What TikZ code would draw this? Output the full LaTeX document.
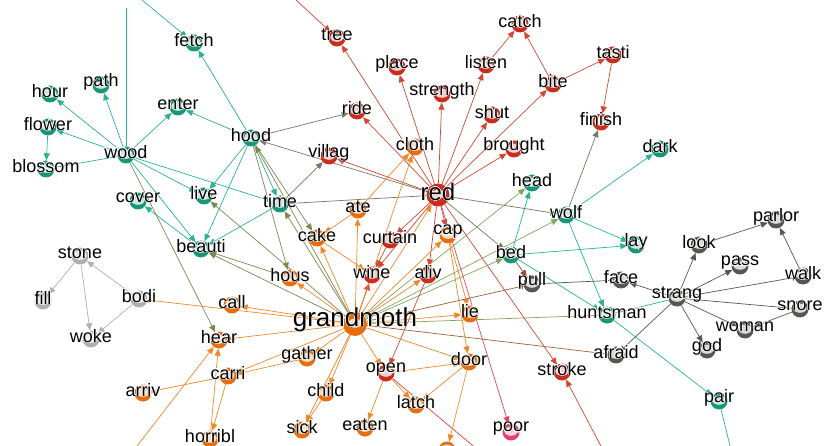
\documentclass[tikz,border=0pt]{standalone}
\usepackage{fontspec}
\setmainfont{Liberation Sans}
\usepackage{contour}
\contourlength{0.4pt}
\contournumber{16}
\usetikzlibrary{arrows.meta}
\pgfdeclarelayer{bg}\pgfdeclarelayer{fg}\pgfsetlayers{bg,main,fg}
\definecolor{tl}{RGB}{25,150,120}
\definecolor{tle}{RGB}{40,180,145}
\definecolor{rd}{RGB}{200,45,30}
\definecolor{rde}{RGB}{215,70,50}
\definecolor{org}{RGB}{230,110,15}
\definecolor{orge}{RGB}{242,135,40}
\definecolor{olv}{RGB}{125,135,80}
\definecolor{gol}{RGB}{115,120,100}
\definecolor{grn}{RGB}{130,165,95}
\definecolor{gry}{RGB}{90,85,80}
\definecolor{lgr}{RGB}{175,175,175}
\definecolor{brn}{RGB}{160,95,55}
\definecolor{brr}{RGB}{160,65,50}
\definecolor{pnk}{RGB}{230,60,110}
\definecolor{pke}{RGB}{225,70,90}
\tikzset{
 vc/.style={circle,minimum size=17pt,inner sep=0pt,fill=#1,
   path picture={\fill[#1!22] ([yshift=0.8pt]path picture bounding box.center) ellipse (6.6pt and 4.6pt);}},
 lab/.style={inner sep=0pt,text=black},
 ed/.style={draw=#1,line width=0.7pt,-{Triangle[length=7pt,width=6pt]}},
 eb/.style={draw=#1,line width=0.7pt,-{Triangle[length=2pt,width=7pt]}},
 ln/.style={draw=#1,line width=0.7pt},
}
\newcommand{\vtx}[6][18]{%
  \node[vc=#5] (#2) at (#3,#4+3) {};
  \begin{pgfonlayer}{fg}\node[lab,font=\fontsize{#1}{#1}\selectfont] at (#3,#4) {\contour{white}{#6}};\end{pgfonlayer}}
\begin{document}
\begin{tikzpicture}[x=1pt,y=-1pt]
\useasboundingbox (0,0) rectangle (827,446);
% teal
\vtx{fetch}{194}{40}{tl}{fetch}
\vtx{path}{101}{82}{tl}{path}
\vtx{hour}{50}{91}{tl}{hour}
\vtx{enter}{178}{104}{tl}{enter}
\vtx{flower}{48}{124}{tl}{flower}
\vtx{hood}{251}{135}{tl}{hood}
\vtx{wood}{126}{152}{tl}{wood}
\vtx{blossom}{46}{166}{tl}{blossom}
\vtx{cover}{138}{198}{tl}{cover}
\vtx{live}{204}{193}{tl}{live}
\vtx{time}{280}{201}{tl}{time}
\vtx{beauti}{201}{246}{tl}{beauti}
\vtx{head}{532}{180}{tl}{head}
\vtx{wolf}{566}{212}{tl}{wolf}
\vtx{dark}{660}{146}{tl}{dark}
\vtx{lay}{636}{242}{tl}{lay}
\vtx{bed}{511}{252}{tl}{bed}
\vtx{huntsman}{607}{312}{tl}{huntsman}
\vtx{pair}{719}{398}{tl}{pair}
% red
\vtx{tree}{337}{35}{rd}{tree}
\vtx{place}{397}{64}{rd}{place}
\vtx{listen}{486}{62}{rd}{listen}
\vtx{catch}{520}{21}{rd}{catch}
\vtx{strength}{442}{91}{rd}{strength}
\vtx{ride}{357}{108}{rd}{ride}
\vtx{shut}{492}{112}{rd}{shut}
\vtx{brought}{514}{146}{rd}{brought}
\vtx{villag}{329}{153}{rd}{villag}
\node[vc=rd,minimum size=23pt] (red) at (438,195) {};
\begin{pgfonlayer}{fg}\node[lab,font=\fontsize{24}{24}\selectfont] at (438,192) {\contour{white}{red}};\end{pgfonlayer}
\vtx{tasti}{613}{52}{rd}{tasti}
\vtx{bite}{553}{81}{rd}{bite}
\vtx{finish}{601}{119}{rd}{finish}
\vtx{curtain}{390}{237}{rd}{curtain}
\vtx{wine}{372}{272}{rd}{wine}
\vtx{aliv}{428}{272}{rd}{aliv}
\vtx{open}{386}{370}{rd}{open}
\vtx{stroke}{562}{369}{rd}{stroke}
\vtx{poor}{511}{429}{pnk}{poor}
% orange
\vtx{cloth}{415}{144}{org}{cloth}
\vtx{ate}{358}{207}{org}{ate}
\vtx{cake}{317}{235}{org}{cake}
\vtx{cap}{448}{232}{org}{cap}
\vtx{hous}{290}{275}{org}{hous}
\vtx{call}{232}{302}{org}{call}
\vtx{hear}{219}{337}{org}{hear}
\node[vc=org,minimum size=24pt] (grandmoth) at (355,324) {};
\begin{pgfonlayer}{fg}\node[lab,font=\fontsize{26}{26}\selectfont] at (355,320) {\contour{white}{grandmoth}};\end{pgfonlayer}
\vtx{lie}{470}{311}{org}{lie}
\vtx{gather}{307}{355}{org}{gather}
\vtx{carri}{228}{373}{org}{carri}
\vtx{arriv}{143}{390}{org}{arriv}
\vtx{child}{326}{390}{org}{child}
\vtx{door}{469}{359}{org}{door}
\vtx{latch}{416}{402}{org}{latch}
\vtx{sick}{302}{427}{org}{sick}
\vtx{eaten}{365}{425}{org}{eaten}
\vtx{horribl}{210}{436}{org}{horribl}
\node[vc=org] (bnode) at (447,450) {};
% light gray
\vtx{stone}{80}{253}{lgr}{stone}
\vtx{fill}{43}{298}{lgr}{fill}
\vtx{bodi}{139}{296}{lgr}{bodi}
\vtx{woke}{91}{336}{lgr}{woke}
% dark gray
\vtx{pull}{532}{281}{gry}{pull}
\vtx{face}{621}{277}{gry}{face}
\vtx{strang}{677}{295}{gry}{strang}
\vtx{look}{699}{242}{gry}{look}
\vtx{parlor}{776}{217}{gry}{parlor}
\vtx{pass}{740}{263}{gry}{pass}
\vtx{walk}{803}{273}{gry}{walk}
\vtx{snore}{800}{306}{gry}{snore}
\vtx{woman}{745}{327}{gry}{woman}
\vtx{god}{707}{347}{gry}{god}
\vtx{afraid}{616}{352}{gry}{afraid}
\coordinate (t1) at (126,8);
\coordinate (t2) at (142,0);
\coordinate (t3) at (296,0);
\coordinate (b1) at (731,450);
\coordinate (b2) at (603,450);
\coordinate (b3) at (134,450);
\coordinate (b4) at (478,450);
\begin{pgfonlayer}{bg}
% teal edges
\draw[ln=tle] (t1) -- (wood);
\draw[ed=tle] (t2) -- (fetch);
\foreach \a/\b in {hood/fetch, wood/hour, wood/path, wood/flower, flower/blossom, wood/enter, hood/enter, wood/live, wood/time, wood/beauti, hood/live, hood/beauti, hood/time, beauti/cover, time/beauti, bed/head, bed/lay, wolf/dark, wolf/lay, wolf/huntsman, bed/huntsman, huntsman/pair}
  \draw[ed=tle] (\a) -- (\b);
\draw[ln=tle] (blossom) -- (wood);
\draw[ln=tle] (pair) -- (b1);
\draw[ln=tle] (strang) -- (huntsman);
% olive edges
\foreach \a/\b in {hood/cake, grandmoth/hood, grandmoth/time, grandmoth/live, grandmoth/beauti, hous/beauti, wood/hear, hood/hous}
  \draw[ed=olv] (\a) -- (\b);
\foreach \a/\b in {time/villag, hood/ride, red/hood, red/wolf, red/bed, wolf/finish}
  \draw[ed=gol] (\a) -- (\b);
\draw[ln=gol] (red) -- (time);
\foreach \a/\b in {grandmoth/head, grandmoth/wolf, grandmoth/bed}
  \draw[ed=grn] (\a) -- (\b);
\draw[ln=grn] (grandmoth) -- (huntsman);
% red edges
\draw[ed=rde] (t3) -- (tree);
\foreach \a/\b in {red/tree, red/place, red/strength, red/listen, red/shut, red/brought, red/ride, red/bite, red/villag, listen/catch, bite/catch, bite/tasti, tasti/finish, red/curtain, red/wine, red/aliv, red/cap, red/stroke, curtain/wine, aliv/open, grandmoth/wine, b2/stroke}
  \draw[ed=rde] (\a) -- (\b);
\draw[ed=pke] (red) -- (poor);
\draw[ln=rde] (open) -- (b4);
% orange edges
\foreach \a/\b in {ate/cloth, grandmoth/cloth, ate/cake, grandmoth/ate, grandmoth/cake, cake/wine, grandmoth/hous, grandmoth/call, grandmoth/hear, grandmoth/gather, grandmoth/child, grandmoth/sick, grandmoth/open, grandmoth/door, grandmoth/lie, grandmoth/cap, grandmoth/aliv, grandmoth/red, gather/carri, grandmoth/carri, carri/horribl, horribl/hear, b3/hear, cap/lie, cap/door, open/door, door/latch, open/latch, door/bnode, open/eaten, child/sick}
  \draw[ed=orge] (\a) -- (\b);
\draw[eb=orge] (carri) -- (arriv);
\draw[eb=orge] (grandmoth) -- (bodi);
% brown
\draw[eb=brn] (grandmoth) -- (pull);
\draw[ln=brn] (grandmoth) -- (afraid);
\draw[ed=brr] (bed) -- (pull);
% dark gray
\foreach \a/\b in {strang/face, strang/look, strang/pass, strang/woman, strang/god, look/parlor, walk/parlor, snore/woman}
  \draw[ed=gry] (\a) -- (\b);
\draw[eb=gry] (pull) -- (face);
\draw[eb=gry] (strang) -- (walk);
\draw[eb=gry] (strang) -- (afraid);
\draw[ln=gry] (strang) -- (snore);
% light gray
\foreach \a/\b in {stone/fill, stone/woke, bodi/stone, bodi/woke}
  \draw[ed=lgr] (\a) -- (\b);
\end{pgfonlayer}
\end{tikzpicture}
\end{document}
